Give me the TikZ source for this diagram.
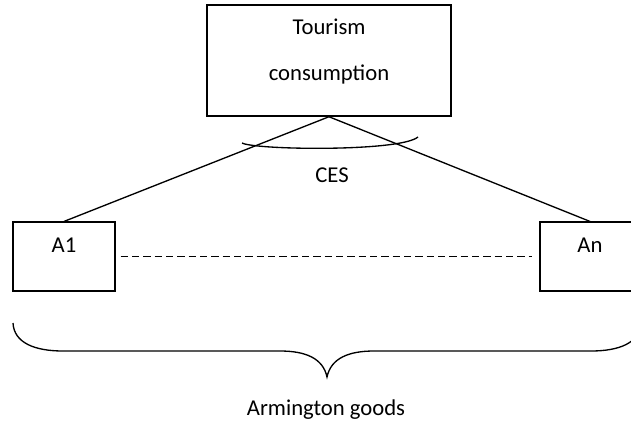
\documentclass[tikz,border=0pt]{standalone}
\usepackage{fontspec}
\setmainfont{Carlito}
\usepackage{tikz}
\usetikzlibrary{positioning,calc}

\begin{document}
\begin{tikzpicture}[
  x=0.75pt,y=-0.75pt,
  box/.style={draw,line width=1.1pt,inner sep=0pt,font=\fontsize{17}{35}\selectfont},
  good/.style={box,minimum width=76.5pt,text height=23pt,text depth=28.5pt},
  txt/.style={font=\fontsize{17}{35}\selectfont,align=center,inner sep=0pt},
  link/.style={line width=1pt}
]
\useasboundingbox (0,0) rectangle (631,428);

\node[box,minimum width=183pt,minimum height=83.25pt] (tour) at (329,60.5) {};
\node[txt] (tourtxt) at (329,51.5) {Tourism\\consumption};

\node[good] (a1) at (64,256.5) {A1};
\node[good,minimum width=75pt] (an) at (590,256.5) {An};

\draw[link] (tour.south)--(a1.north);
\draw[link] (tour.south)--(an.north);
\draw[link,dash pattern=on 5.5pt off 3pt] ($(a1.east)+(5,0)$)--($(an.west)+(-7,0)$);

% CES arc
\draw[link] (242,143) .. controls (255,150) and (400,152) .. (418,137);
\node[txt] (ces) at (332,175) {CES};

% brace
\draw[link] (13,323) .. controls (14,343) and (35,351) .. (63,351) -- (280,351)
  .. controls (305,351) and (323,358) .. (327,377)
  .. controls (331,358) and (349,351) .. (374,351) -- (591,351)
  .. controls (619,351) and (640,343) .. (641,323);
\node[txt] (arm) at (326,410) {Armington goods};
\end{tikzpicture}
\end{document}
